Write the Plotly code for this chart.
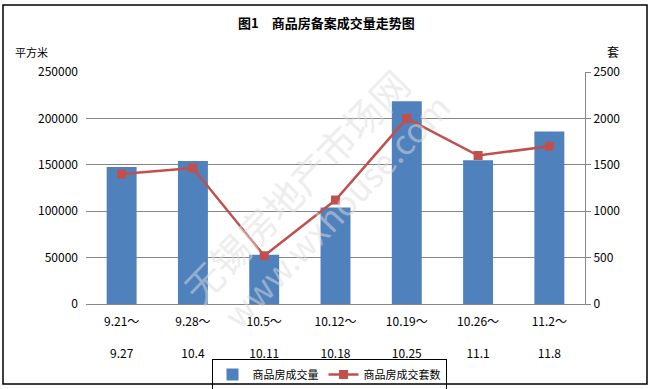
import plotly.graph_objects as go

categories = ["9.21～<br><br>9.27", "9.28～<br><br>10.4", "10.5～<br><br>10.11", "10.12～<br><br>10.18",
              "10.19～<br><br>10.25", "10.26～<br><br>11.1", "11.2～<br><br>11.8"]
area_values = [147500, 154000, 53000, 104000, 218500, 155000, 186000]
units_values = [1400, 1465, 520, 1120, 2000, 1600, 1700]
left_ticks = [0, 50000, 100000, 150000, 200000, 250000]
right_ticks = [0, 500, 1000, 1500, 2000, 2500]

W, H = 652, 389
L, R, T, B = 86, 585, 72, 304

def px(x):
    return (x - L) / (R - L)

def py(y):
    return (B - y) / (B - T)

font = "SimSun, 'Noto Sans CJK SC', sans-serif"

fig = go.Figure()
fig.add_trace(go.Bar(x=categories, y=area_values, name="商品房成交量",
                     marker=dict(color="#4F81BD", line=dict(width=0)), width=0.42))
fig.add_trace(go.Scatter(x=categories, y=units_values, name="商品房成交套数", yaxis="y2",
                         mode="lines+markers",
                         line=dict(color="#C0504D", width=2.5),
                         marker=dict(symbol="square", size=9, color="#C0504D")))

fig.update_layout(
    width=W, height=H,
    margin=dict(l=L, r=W - R, t=T, b=H - B, autoexpand=False),
    paper_bgcolor="white", plot_bgcolor="white",
    font=dict(family=font, size=12, color="black"),
    showlegend=True,
    legend=dict(orientation="h", x=px(329), y=py(359), xanchor="center", yanchor="top",
                bgcolor="rgba(0,0,0,0)",
                bordercolor="black", borderwidth=1, font=dict(size=11, family=font),
                itemwidth=30, tracegroupgap=0),
    xaxis=dict(type="category", showgrid=False, showline=True, linecolor="#868686", linewidth=1,
               ticks="", tickfont=dict(size=12), fixedrange=True, automargin=False,
               ticklabelstandoff=7),
    yaxis=dict(range=[0, 250000], tickvals=left_ticks, ticktext=[str(v) for v in left_ticks],
               showgrid=True, gridcolor="#868686", gridwidth=1, zeroline=False, automargin=False,
               showline=False, ticks="", ticklen=0, tickfont=dict(size=12), ticklabelstandoff=7),
    yaxis2=dict(range=[0, 2500], tickvals=right_ticks, ticktext=[str(v) for v in right_ticks],
                overlaying="y", side="right", showgrid=False, zeroline=False, automargin=False,
                showline=True, linecolor="#868686", linewidth=1,
                ticks="outside", ticklen=5, tickcolor="#868686", tickfont=dict(size=12)),
    annotations=[
        dict(text="<b>图1　商品房备案成交量走势图</b>", x=px(326), y=py(23), xref="paper", yref="paper",
             showarrow=False, xanchor="center", yanchor="middle", font=dict(size=13)),
        dict(text="平方米", x=px(13), y=py(52), xref="paper", yref="paper",
             showarrow=False, xanchor="left", yanchor="middle", font=dict(size=11)),
        dict(text="套", x=px(613), y=py(52), xref="paper", yref="paper",
             showarrow=False, xanchor="center", yanchor="middle", font=dict(size=12)),
        dict(text="无锡房地产市场网", x=px(295), y=py(185), xref="paper", yref="paper",
             showarrow=False, textangle=-46, font=dict(size=38, color="rgba(220,220,220,0.5)")),
        dict(text="www.wxhouse.com", x=px(335), y=py(210), xref="paper", yref="paper",
             showarrow=False, textangle=-46, font=dict(size=34, color="rgba(220,220,220,0.5)")),
    ],
    shapes=[
        dict(type="rect", xref="paper", yref="paper", x0=px(3), x1=px(647), y0=py(384), y1=py(5),
             line=dict(color="black", width=1.5), fillcolor="rgba(0,0,0,0)", layer="below"),
    ],
)

fig.write_html("out.html", config={"displayModeBar": False},
               post_script="document.body.style.margin='0';")
